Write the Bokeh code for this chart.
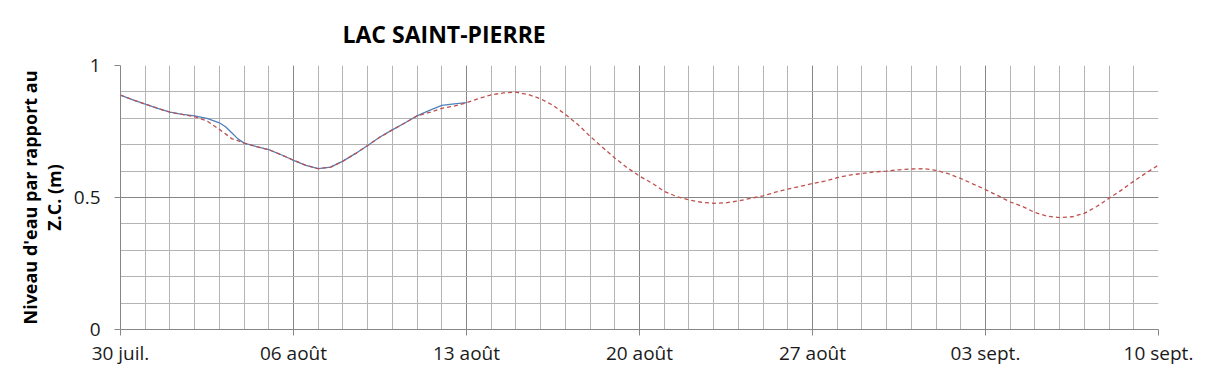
from bokeh.plotting import figure
from bokeh.models import FixedTicker, Range1d
from bokeh.embed import file_html
from bokeh.resources import INLINE

# ---- data (days since 30 juil.) ----
title_text = "LAC SAINT-PIERRE"
tick_days = [0, 7, 14, 21, 28, 35, 42]
tick_labels = ["30 juil.", "06 août", "13 août", "20 août", "27 août", "03 sept.", "10 sept."]

obs_days = [0, 0.5, 1, 1.5, 2, 2.5, 3, 3.5, 4, 4.25, 4.5, 4.75, 5, 5.5, 6, 6.5, 7, 7.5,
            8, 8.5, 9, 9.5, 10, 10.5, 11, 11.5, 12, 12.5, 13, 13.5, 14]
obs_level = [0.888, 0.870, 0.854, 0.838, 0.823, 0.815, 0.809, 0.800, 0.783, 0.768,
             0.745, 0.722, 0.706, 0.693, 0.681, 0.662, 0.641, 0.622, 0.609, 0.615,
             0.638, 0.666, 0.697, 0.729, 0.756, 0.782, 0.809, 0.830, 0.849, 0.855, 0.859]

fc_days = [0, 0.5, 1, 1.5, 2, 2.5, 3, 3.5, 4, 4.25, 4.5, 4.75, 5, 5.5, 6, 6.5, 7, 7.5,
           8, 8.5, 9, 9.5, 10, 10.5, 11, 11.5, 12, 12.5, 13, 13.5, 14, 14.5, 15, 15.5,
           16, 16.5, 17, 17.5, 18, 18.5, 19, 19.5, 20, 20.5, 21, 21.5, 22, 22.5, 23,
           23.5, 24, 24.5, 25, 25.5, 26, 26.5, 27, 27.5, 28, 28.5, 29, 29.5, 30, 30.5,
           31, 31.5, 32, 32.5, 33, 33.5, 34, 34.5, 35, 35.5, 36, 36.5, 37, 37.5, 38,
           38.5, 39, 39.5, 40, 40.5, 41, 41.5, 42]
fc_level = [0.888, 0.870, 0.854, 0.838, 0.823, 0.815, 0.806, 0.790, 0.758, 0.741,
            0.723, 0.715, 0.706, 0.693, 0.681, 0.662, 0.641, 0.622, 0.609, 0.615,
            0.638, 0.666, 0.697, 0.729, 0.756, 0.782, 0.809, 0.822, 0.838, 0.846,
            0.859, 0.875, 0.889, 0.896, 0.899, 0.890, 0.874, 0.849, 0.815, 0.777,
            0.732, 0.690, 0.650, 0.613, 0.581, 0.555, 0.523, 0.504, 0.491, 0.482,
            0.478, 0.480, 0.487, 0.497, 0.506, 0.520, 0.532, 0.542, 0.553, 0.562,
            0.575, 0.585, 0.591, 0.597, 0.600, 0.605, 0.608, 0.609, 0.603, 0.590,
            0.572, 0.551, 0.530, 0.507, 0.483, 0.466, 0.443, 0.429, 0.424, 0.427,
            0.440, 0.466, 0.497, 0.528, 0.562, 0.593, 0.623]

y_major = [0, 0.5, 1]
y_minor = [0, 0.1, 0.2, 0.3, 0.4, 0.5, 0.6, 0.7, 0.8, 0.9, 1.0]
x_minor = list(range(0, 43))

FONT = "Open Sans"

p = figure(width=1193, height=374, output_backend="svg", toolbar_location=None,
           x_range=Range1d(0, 42), y_range=Range1d(0, 1),
           min_border_left=120, min_border_right=35, min_border_top=63, min_border_bottom=45,
           title=title_text)
p.outline_line_color = None
p.background_fill_color = "white"

p.title.align = "left"
p.title.offset = 222
p.title.text_font = FONT
p.title.text_font_style = "bold"
p.title.text_font_size = "23px"
p.title.text_color = "black"
p.title.standoff = 31

xt = FixedTicker(ticks=tick_days, minor_ticks=x_minor)
yt = FixedTicker(ticks=y_major, minor_ticks=y_minor)
p.xaxis.ticker = xt
p.yaxis.ticker = yt
p.xaxis.major_label_overrides = {d: l for d, l in zip(tick_days, tick_labels)}
p.yaxis.major_label_overrides = {0: "0", 0.5: "0.5", 1: "1"}

for ax in (p.xaxis, p.yaxis):
    ax.axis_line_color = "#868686"
    ax.major_tick_line_color = "#868686"
    ax.major_tick_out = 6
    ax.major_tick_in = 0
    ax.minor_tick_out = 0
    ax.minor_tick_in = 0
    ax.major_label_text_font = FONT
    ax.major_label_text_font_size = "19px"
    ax.major_label_text_color = "#1a1a1a"

p.xaxis.major_label_standoff = 4
p.yaxis.major_label_standoff = 14

p.yaxis.axis_label = "Niveau d'eau par rapport au\nZ.C. (m)"
p.yaxis.axis_label_text_font = FONT
p.yaxis.axis_label_text_font_style = "bold"
p.yaxis.axis_label_text_font_size = "18px"
p.yaxis.axis_label_text_color = "black"
p.yaxis.axis_label_text_line_height = 1.0
p.yaxis.axis_label_standoff = 5

for g in (p.xgrid, p.ygrid):
    g.grid_line_color = "#868686"
    g.grid_line_width = 1
    g.minor_grid_line_color = "#b4b4b4"
    g.minor_grid_line_width = 1
p.xgrid.ticker = xt
p.ygrid.ticker = yt

p.line(obs_days, obs_level, line_color="#4f81bd", line_width=1.3)
p.line(fc_days, fc_level, line_color="#c0504d", line_width=1.3, line_dash="4 3")

open("out.html", "w").write(file_html(p, INLINE))
